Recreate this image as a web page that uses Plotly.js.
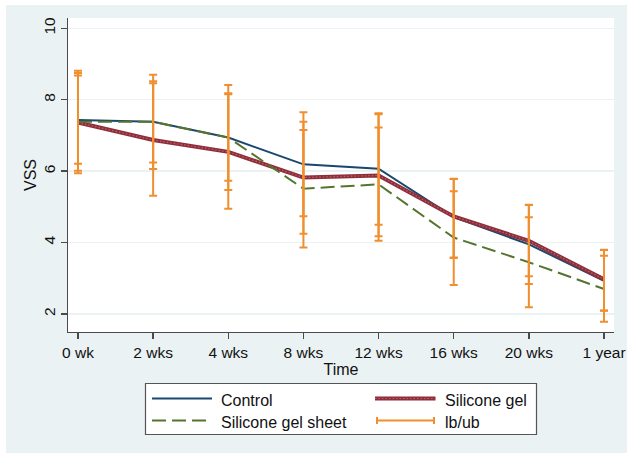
<!DOCTYPE html>
<html>
<head>
<meta charset="utf-8">
<script src="https://cdn.plot.ly/plotly-3.0.1.min.js"></script>
<style>
  html, body { margin: 0; padding: 0; background: #ffffff; }
  #chart { position: absolute; left: 6px; top: 5px; width: 621px; height: 448px; }
</style>
</head>
<body>
<div id="chart"></div>
<script>
// ---- data ----
var categories = ['0 wk', '2 wks', '4 wks', '8 wks', '12 wks', '16 wks', '20 wks', '1 year'];
var control = [7.43, 7.38, 6.94, 6.19, 6.07, 4.71, 3.95, 2.93];
var siliconeGel = [7.36, 6.87, 6.54, 5.82, 5.88, 4.73, 4.05, 2.97];
var siliconeSheet = [7.38, 7.38, 6.94, 5.51, 5.63, 4.14, 3.45, 2.70];

var controlLb = [6.21, 6.06, 5.47, 4.74, 4.50, 3.57, 2.84, 2.09];
var controlUb = [8.68, 8.70, 8.41, 7.65, 7.62, 5.78, 5.05, 3.79];
var gelLb = [5.94, 5.31, 4.95, 4.25, 4.18, 3.58, 3.06, 2.10];
var gelUb = [8.81, 8.46, 8.15, 7.38, 7.59, 5.79, 5.06, 3.80];
var sheetLb = [6.01, 6.24, 5.73, 3.86, 4.05, 2.81, 2.19, 1.78];
var sheetUb = [8.75, 8.52, 8.18, 7.15, 7.22, 5.44, 4.71, 3.63];

var yTicks = [2, 4, 6, 8, 10];
var legendLabels = ['Control', 'Silicone gel', 'Silicone gel sheet', 'lb/ub'];

// ---- styles ----
var navy = '#1a476f', maroon = '#8f2e3b', maroonLight = '#b9616c', green = '#55752f', orange = '#ef8f2f';
var FONT = 'Liberation Sans, Arial, Helvetica, sans-serif';

function capTrace(lb, ub) {
  return {
    x: categories, y: lb, type: 'scatter', mode: 'markers',
    marker: { size: 1, opacity: 0 }, showlegend: false, hoverinfo: 'skip',
    error_y: {
      type: 'data', symmetric: false,
      array: ub.map(function (u, i) { return u - lb[i]; }),
      arrayminus: lb.map(function () { return 0; }),
      color: orange, thickness: 2, width: 4
    }
  };
}

var traces = [
  { x: categories, y: control, type: 'scatter', mode: 'lines', line: { color: navy, width: 2 }, showlegend: false },
  { x: categories, y: siliconeGel, type: 'scatter', mode: 'lines', line: { color: maroon, width: 4 }, showlegend: false },
  { x: categories, y: siliconeGel, type: 'scatter', mode: 'lines', line: { color: maroonLight, width: 1.2, dash: '1.5px,2px' }, showlegend: false },
  { x: categories, y: siliconeSheet, type: 'scatter', mode: 'lines', line: { color: green, width: 2, dash: '14px,6px' }, showlegend: false },
  capTrace(controlLb, controlUb),
  capTrace(gelLb, gelUb),
  capTrace(sheetLb, sheetUb)
];

// ---- manual legend (Stata style), positions in page pixels converted to paper ----
var PL = 68, PR = 614, PT = 18, PB = 332;
function px(X) { return (X - PL) / (PR - PL); }
function py(Y) { return (PB - Y) / (PB - PT); }
function seg(x0, y0, x1, y1, color, width, dash) {
  return { type: 'line', xref: 'paper', yref: 'paper', x0: px(x0), y0: py(y0), x1: px(x1), y1: py(y1),
           line: { color: color, width: width, dash: dash || 'solid' }, layer: 'above' };
}
var shapes = [
  { type: 'rect', xref: 'paper', yref: 'paper', x0: px(145.5), x1: px(536.5), y0: py(434.5), y1: py(383.5),
    fillcolor: '#ffffff', line: { color: '#555555', width: 1.2 }, layer: 'above' },
  seg(152, 398.5, 212, 398.5, navy, 2),
  seg(375, 398.5, 435.5, 398.5, maroon, 4),
  seg(375, 398.5, 435.5, 398.5, maroonLight, 1.2, '1.5px,2px'),
  seg(152, 420.5, 212, 420.5, green, 2, '14px,6px'),
  seg(376, 420.5, 435, 420.5, orange, 2),
  seg(377, 417, 377, 424, orange, 2),
  seg(434, 417, 434, 424, orange, 2)
];
function label(X, Y, t) {
  return { xref: 'paper', yref: 'paper', x: px(X), y: py(Y), text: t, showarrow: false,
           xanchor: 'left', yanchor: 'middle', font: { family: FONT, size: 16, color: '#111111' } };
}
var annotations = [
  label(219, 400, legendLabels[0]),
  label(442.5, 400, legendLabels[1]),
  label(219, 422, legendLabels[2]),
  label(442.5, 422, legendLabels[3])
];

var layout = {
  width: 621, height: 448,
  margin: { l: PL - 6, r: 627 - PR, t: PT - 5, b: 453 - PB, pad: 0 },
  paper_bgcolor: '#eaf2f3', plot_bgcolor: '#ffffff',
  font: { family: FONT, size: 15.5, color: '#111111' },
  showlegend: false,
  xaxis: {
    type: 'category', range: [-0.133, 7.133], showgrid: false, zeroline: false,
    showline: true, linecolor: '#4a4a4a', linewidth: 1.3,
    ticks: 'outside', ticklen: 6, tickwidth: 1.3, tickcolor: '#4a4a4a',
    tickfont: { family: FONT, size: 15.5, color: '#111111' },
    title: { text: 'Time', font: { family: FONT, size: 16, color: '#111111' }, standoff: 1 },
    automargin: false
  },
  yaxis: {
    range: [1.496, 10.288], tickvals: yTicks, ticktext: yTicks.map(String), tickangle: -90,
    showgrid: true, gridcolor: '#eaf2f3', gridwidth: 1.5, zeroline: false,
    showline: true, linecolor: '#4a4a4a', linewidth: 1.3,
    ticks: 'outside', ticklen: 6, tickwidth: 1.3, tickcolor: '#4a4a4a',
    tickfont: { family: FONT, size: 15.5, color: '#111111' },
    title: { text: 'VSS', font: { family: FONT, size: 16, color: '#111111' }, standoff: 0 },
    automargin: false
  },
  shapes: shapes,
  annotations: annotations
};

Plotly.newPlot('chart', traces, layout, { displayModeBar: false, staticPlot: true });
</script>
</body>
</html>
